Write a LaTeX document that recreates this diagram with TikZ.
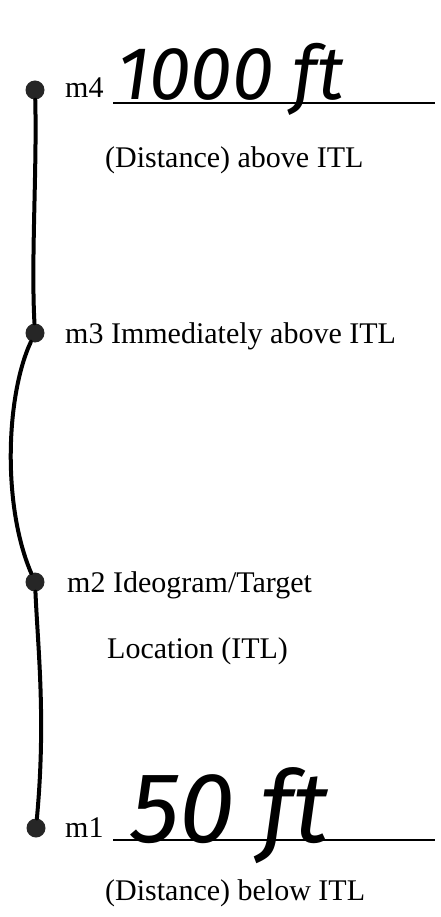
\documentclass[tikz,border=0pt]{standalone}
\usepackage{fontspec}
\setmainfont{Liberation Serif}
\newfontfamily\handfont{Fira Sans}
\usepackage{tikz}
\usetikzlibrary{positioning}

\tikzset{
  marker/.style={circle,fill=black!85,inner sep=0pt,minimum size=19pt},
  lbl/.style={inner sep=0pt,anchor=base west,font=\fontsize{30}{36}\selectfont},
  hand/.style={inner sep=0pt,anchor=base west,font=\handfont\itshape},
  blank/.style={line width=1.3pt},
  thread/.style={line width=4pt,line cap=round}
}

\begin{document}
\begin{tikzpicture}[x=1pt,y=-1pt]
  \useasboundingbox (0,0) rectangle (441,917);

  \node[marker] (m4) at (35,90) {};
  \node[marker] (m3) at (35,333) {};
  \node[marker] (m2) at (35,582) {};
  \node[marker] (m1) at (36,828) {};

  % labels
  \node[lbl] (m4lbl) at (65,98) {m4};
  \node[lbl] (above) at (105,168) {(Distance) above ITL};
  \node[lbl] (m3lbl) at (65,343) {m3 Immediately above ITL};
  \node[lbl] (m2lbl) at (67,592) {m2 Ideogram/Target};
  \node[lbl] (itl) at (107,658) {Location (ITL)};
  \node[lbl] (m1lbl) at (65,837) {m1};
  \node[lbl] (below) at (105,900) {(Distance) below ITL};

  % blanks filled in by hand
  \coordinate (u4a) at (113,103);
  \coordinate (u4b) at (435,103);
  \coordinate (u1a) at (113,840);
  \coordinate (u1b) at (435,840);
  \draw[blank] (u4a) -- (u4b);
  \draw[blank] (u1a) -- (u1b);
  \node[hand,font=\handfont\itshape\fontsize{75}{75}\selectfont] (dist4) at (117,100) {1000 ft};
  \node[hand,font=\handfont\itshape\fontsize{100}{100}\selectfont] (dist1) at (130,842) {50 ft};

  % the line through the markers
  \draw[thread] (m4) .. controls (37,170) and (31,260) .. (m3);
  \draw[thread] (m3) .. controls (6,395) and (2,505) .. (m2);
  \draw[thread] (m2) .. controls (38,650) and (46,720) .. (m1);
\end{tikzpicture}
\end{document}
